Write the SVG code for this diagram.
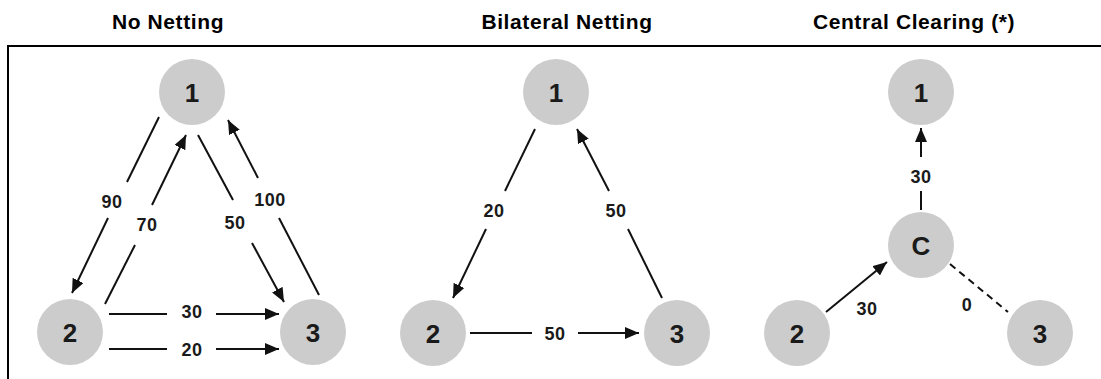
<svg xmlns="http://www.w3.org/2000/svg" width="1101" height="379" viewBox="0 0 1101 379">
<style>
.title{font-family:"Liberation Sans",Arial,sans-serif;font-weight:bold;font-size:21px;letter-spacing:0.6px;fill:#000;text-anchor:middle}
.node circle{fill:#cccccc}
.node text{font-family:"Liberation Sans",Arial,sans-serif;font-weight:bold;font-size:26px;fill:#1a1a1a;text-anchor:middle;dominant-baseline:central}
.lbl{font-family:"Liberation Sans",Arial,sans-serif;font-weight:bold;font-size:18px;letter-spacing:0.5px;fill:#1a1a1a;text-anchor:middle;dominant-baseline:central}
.e{stroke:#111;stroke-width:2;fill:none}
.a{marker-end:url(#ah)}
.d{stroke-dasharray:7,5}
.frame{stroke:#000;stroke-width:2;fill:none}
</style>
<defs>
<marker id="ah" markerWidth="14" markerHeight="12" refX="14" refY="6" orient="auto" markerUnits="userSpaceOnUse">
<path d="M0,0 L14,6 L0,12 Z" fill="#111"/>
</marker>
</defs>
<rect width="1101" height="379" fill="#fff"/>
<g id="titles">
<text class="title" x="168" y="29">No Netting</text>
<text class="title" x="567" y="29">Bilateral Netting</text>
<text class="title" x="914" y="29">Central Clearing (*)</text>
</g>
<path class="frame" d="M8,379 L8,46 L1101,46"/>
<g id="connectors">
<!-- panel 1 -->
<line class="e" x1="159" y1="117" x2="127" y2="182"/>
<line class="e a" x1="108" y1="218" x2="72" y2="293"/>
<text class="lbl" x="112" y="202">90</text>
<line class="e" x1="105" y1="304" x2="135" y2="245"/>
<line class="e a" x1="152" y1="205" x2="186" y2="135"/>
<text class="lbl" x="147" y="225">70</text>
<line class="e" x1="198" y1="135" x2="233" y2="200"/>
<line class="e a" x1="252" y1="243" x2="284" y2="302"/>
<text class="lbl" x="235" y="223">50</text>
<line class="e" x1="319" y1="295" x2="279" y2="218"/>
<line class="e a" x1="258" y1="178" x2="228" y2="120"/>
<text class="lbl" x="270" y="200">100</text>
<line class="e" x1="109" y1="314" x2="167" y2="314"/>
<line class="e a" x1="216" y1="314" x2="279" y2="314"/>
<text class="lbl" x="192" y="312">30</text>
<line class="e" x1="109" y1="349" x2="167" y2="349"/>
<line class="e a" x1="216" y1="349" x2="279" y2="349"/>
<text class="lbl" x="192" y="350">20</text>
<!-- panel 2 -->
<line class="e" x1="535" y1="129" x2="505" y2="191"/>
<line class="e a" x1="486" y1="229" x2="453" y2="298"/>
<text class="lbl" x="494" y="211">20</text>
<line class="e" x1="662" y1="298" x2="628" y2="229"/>
<line class="e a" x1="609" y1="191" x2="577" y2="129"/>
<text class="lbl" x="616" y="211">50</text>
<line class="e" x1="470" y1="333" x2="532" y2="333"/>
<line class="e a" x1="578" y1="333" x2="639" y2="333"/>
<text class="lbl" x="555" y="334">50</text>
<!-- panel 3 -->
<line class="e" x1="921" y1="210" x2="921" y2="191"/>
<line class="e a" x1="921" y1="157" x2="921" y2="128"/>
<text class="lbl" x="921" y="177">30</text>
<line class="e a" x1="826" y1="312" x2="887" y2="262"/>
<text class="lbl" x="867" y="309">30</text>
<line class="e d" x1="950" y1="264" x2="1008" y2="312"/>
<text class="lbl" x="967" y="305">0</text>
</g>
<g id="n1a" class="node"><circle cx="192" cy="92" r="33"/><text x="192" y="93">1</text></g>
<g id="n2a" class="node"><circle cx="70" cy="332" r="33"/><text x="70" y="333">2</text></g>
<g id="n3a" class="node"><circle cx="313" cy="332" r="33"/><text x="313" y="333">3</text></g>
<g id="n1b" class="node"><circle cx="556" cy="92" r="33"/><text x="556" y="93">1</text></g>
<g id="n2b" class="node"><circle cx="433" cy="333" r="33"/><text x="433" y="334">2</text></g>
<g id="n3b" class="node"><circle cx="677" cy="333" r="33"/><text x="677" y="334">3</text></g>
<g id="n1c" class="node"><circle cx="921" cy="92" r="33"/><text x="921" y="93">1</text></g>
<g id="nCc" class="node"><circle cx="921" cy="245" r="33"/><text x="921" y="246">C</text></g>
<g id="n2c" class="node"><circle cx="797" cy="333" r="33"/><text x="797" y="334">2</text></g>
<g id="n3c" class="node"><circle cx="1040" cy="333" r="33"/><text x="1040" y="334">3</text></g>
</svg>
